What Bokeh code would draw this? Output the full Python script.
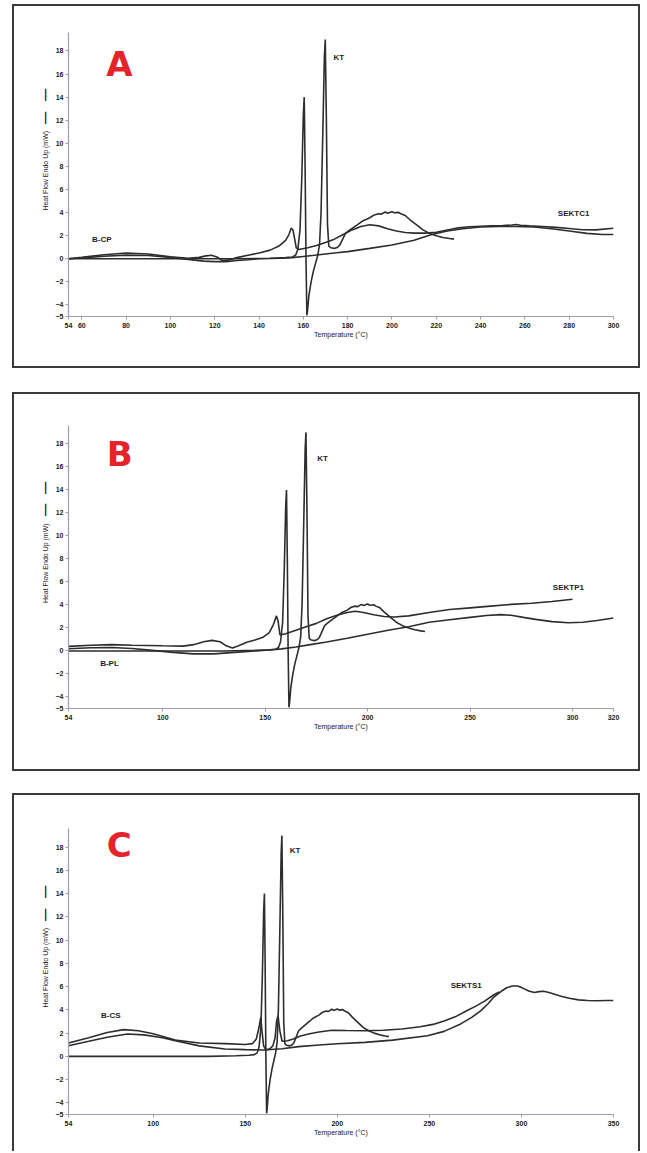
from bokeh.plotting import figure
from bokeh.layouts import column
from bokeh.models import Range1d, FixedTicker
from bokeh.core.properties import value
from bokeh.embed import file_html
from bokeh.resources import INLINE

# ---------------- data ----------------
# KT curve (same in all three panels)
kt_temp = [54, 70, 90, 110, 130, 145, 152, 155, 156.5, 157.5, 158.5, 159.3, 160.0, 160.4, 160.8,
           161.2, 161.6, 161.9, 162.5, 163.5, 164.5, 165.5, 166.5, 167.3, 168.0, 168.8, 169.5,
           169.9, 170.4, 170.9, 171.5, 172.5, 174, 175.5, 176.5, 177.5, 179, 181, 184, 187, 190,
           192, 194, 195, 197, 198, 200, 201, 203, 204, 206, 208, 211, 214, 217, 220, 223, 226, 228]
kt_flow = [0.0, 0.0, 0.0, 0.0, 0.0, 0.05, 0.1, 0.15, 0.3, 0.8, 2.5, 7.0, 12.5, 14.0, 8.0,
           0.0, -4.9, -4.5, -3.2, -2.0, -1.1, -0.4, 0.3, 1.2, 4.0, 11.0, 17.5,
           19.0, 12.0, 3.0, 1.1, 0.95, 0.9, 1.0, 1.2, 1.6, 2.2, 2.5, 2.9, 3.3, 3.55,
           3.8, 3.9, 3.85, 4.05, 3.95, 4.08, 3.98, 4.02, 3.9, 3.75, 3.4, 2.95, 2.5, 2.2, 2.0, 1.85, 1.75, 1.7]

# Panel A
a_bcp_temp = [54, 60, 70, 80, 90, 100, 108, 115, 120, 125, 130, 135, 140, 145, 150, 155, 160, 165,
              170, 175, 180, 190, 200, 210, 218, 225, 232, 240, 248, 256, 264, 272, 280, 288, 295, 300]
a_bcp_flow = [0.0, 0.08, 0.22, 0.32, 0.28, 0.12, -0.05, -0.2, -0.25, -0.25, -0.15, -0.08, 0.0, 0.02,
              0.05, 0.1, 0.2, 0.3, 0.42, 0.52, 0.62, 0.9, 1.2, 1.6, 2.1, 2.4, 2.6, 2.75, 2.8, 2.8,
              2.75, 2.6, 2.4, 2.2, 2.1, 2.1]
a_sek_temp = [54, 60, 70, 80, 90, 100, 108, 113, 116, 118.5, 121, 123.5, 126, 130, 135, 140, 145, 149,
              152, 153.5, 154.5, 155.3, 156, 156.8, 158, 162, 166, 170, 174, 178, 182, 186, 190, 194,
              198, 202, 206, 210, 215, 220, 225, 230, 235, 240, 245, 250, 254, 256, 258, 262, 268,
              274, 280, 286, 292, 300]
a_sek_flow = [0.0, 0.12, 0.35, 0.5, 0.42, 0.18, 0.05, 0.12, 0.25, 0.3, 0.15, -0.15, -0.12, 0.1, 0.3,
              0.5, 0.75, 1.1, 1.6, 2.1, 2.65, 2.5, 1.8, 0.95, 0.8, 0.95, 1.15, 1.4, 1.7, 2.1, 2.5,
              2.8, 2.95, 2.85, 2.6, 2.4, 2.28, 2.22, 2.22, 2.3, 2.5, 2.68, 2.78, 2.82, 2.85, 2.88,
              2.92, 2.97, 2.9, 2.85, 2.8, 2.72, 2.62, 2.52, 2.5, 2.65]

# Panel B
b_bpl_temp = [54, 65, 75, 85, 95, 105, 115, 125, 135, 145, 152, 158, 165, 172, 180, 190, 200, 210,
              220, 230, 240, 250, 258, 265, 270, 276, 282, 290, 298, 305, 312, 320]
b_bpl_flow = [0.2, 0.28, 0.3, 0.22, 0.05, -0.12, -0.25, -0.25, -0.12, 0.0, 0.08, 0.18, 0.35, 0.55,
              0.78, 1.1, 1.45, 1.8, 2.1, 2.5, 2.72, 2.92, 3.08, 3.16, 3.1, 2.92, 2.75, 2.55, 2.45,
              2.5, 2.65, 2.86]
b_sek_temp = [54, 65, 75, 85, 100, 110, 115, 120, 124, 128, 131, 134, 137, 141, 145, 149, 152, 154,
              155.5, 156.3, 157.2, 160, 165, 170, 175, 180, 185, 190, 194, 198, 203, 208, 213, 220,
              230, 240, 250, 260, 270, 280, 290, 300]
b_sek_flow = [0.4, 0.5, 0.55, 0.5, 0.45, 0.42, 0.55, 0.8, 0.92, 0.8, 0.45, 0.25, 0.45, 0.75, 0.95,
              1.2, 1.6, 2.3, 3.05, 2.6, 1.4, 1.5, 1.8, 2.1, 2.4, 2.8, 3.1, 3.35, 3.45, 3.35, 3.15,
              3.0, 2.95, 3.05, 3.35, 3.6, 3.75, 3.9, 4.05, 4.15, 4.3, 4.5]

# Panel C
c_bcs_temp = [54, 65, 75, 86, 95, 105, 112, 125, 139, 150, 160, 170, 179, 190, 200, 215, 230, 249,
              258, 267, 273, 278, 282, 285, 289, 292, 295, 298, 301, 304, 307, 309.5, 312, 315, 318,
              322, 326, 331, 336, 341, 347, 350]
c_bcs_flow = [0.92, 1.3, 1.65, 1.93, 1.85, 1.6, 1.35, 0.9, 0.64, 0.58, 0.55, 0.65, 0.84, 0.98, 1.08,
              1.2, 1.4, 1.78, 2.15, 2.79, 3.35, 3.94, 4.55, 5.1, 5.6, 5.9, 6.05, 6.05, 5.85, 5.62,
              5.5, 5.57, 5.6, 5.5, 5.35, 5.15, 5.0, 4.86, 4.8, 4.78, 4.8, 4.8]
c_sek_temp = [54, 65, 75, 84, 92, 100, 112, 125, 139, 150, 154, 156, 157.5, 158.4, 159.2, 160, 161,
              163, 165, 166.2, 167, 167.8, 168.8, 170, 173, 176, 180, 185, 190, 197, 205, 215, 225,
              235, 245, 252, 258, 264, 270, 275, 280, 285, 288]
c_sek_flow = [1.15, 1.6, 2.05, 2.3, 2.2, 1.95, 1.4, 1.15, 1.1, 1.02, 1.1, 1.5, 2.5, 3.35, 2.0, 0.9,
              0.6, 0.6, 0.9, 1.6, 3.0, 3.5, 2.2, 1.3, 1.35, 1.5, 1.75, 1.95, 2.1, 2.25, 2.22, 2.2,
              2.25, 2.35, 2.55, 2.75, 3.05, 3.4, 3.9, 4.3, 4.75, 5.3, 5.55]

# tick labels
y_ticks = [-5, -4, -2, 0, 2, 4, 6, 8, 10, 12, 14, 16, 18]
a_x_ticks = [54, 60, 80, 100, 120, 140, 160, 180, 200, 220, 240, 260, 280, 300]
b_x_ticks = [54, 100, 150, 200, 250, 300, 320]
c_x_ticks = [54, 100, 150, 200, 250, 300, 350]

# annotation text and anchor positions (data units)
a_labels = ["B-CP", "KT", "SEKTC1"]
a_label_x = [69, 176, 282]
a_label_y = [1.7, 17.4, 3.9]
b_labels = ["B-PL", "KT", "SEKTP1"]
b_label_x = [74, 178, 298]
b_label_y = [-1.1, 16.7, 5.5]
c_labels = ["B-CS", "KT", "SEKTS1"]
c_label_x = [77, 177, 270]
c_label_y = [3.5, 17.7, 6.1]
panel_letters = ["A", "B", "C"]
letter_x = [77, 79, 81.5]
letter_y = [16.9, 17.1, 18.2]

LINE = "#2d2d2d"
AXIS = "#a09cb8"
FONT = "Liberation Sans"
YLABEL = ("\u2003" * 7 + "Heat Flow Endo Up (mW)" + "\u2002\u2002"
          + "\u2501\u2501\u2501" + "\u2003\u2002" + "\u2501\u2501\u2501")


def panel(xmax, xticks, series, labels, lx, ly, letter, lx_l, ly_l,
          width, height, bl, br, bt, bb, shadow):
    p = figure(width=width, height=height, output_backend="svg", toolbar_location=None,
               x_range=Range1d(54, xmax), y_range=Range1d(-5, 19.6),
               min_border_left=bl, min_border_right=br, min_border_top=bt, min_border_bottom=bb)
    p.outline_line_color = None
    p.grid.visible = False
    p.background_fill_color = None
    p.border_fill_color = None
    for t, v in series:
        p.line(t, v, line_color=LINE, line_width=1.6)
    p.text(x=lx, y=ly, text=labels, text_font=value(FONT), text_font_size="8px",
           text_font_style="bold", text_color="#1e1e1e", text_align="center",
           text_baseline="middle")
    p.text(x=[lx_l], y=[ly_l], text=[letter], text_font=value("DejaVu Sans"),
           text_font_size="34px", text_font_style="bold", text_color="#e5232b",
           text_align="center", text_baseline="middle")
    p.xaxis.ticker = FixedTicker(ticks=xticks)
    p.yaxis.ticker = FixedTicker(ticks=y_ticks)
    for ax in (p.xaxis[0], p.yaxis[0]):
        ax.axis_line_color = AXIS
        ax.axis_line_width = 1.2
        ax.major_tick_line_color = AXIS
        ax.major_tick_out = 3
        ax.major_tick_in = 0
        ax.minor_tick_line_color = None
        ax.major_label_text_font = FONT
        ax.major_label_text_font_size = "7px"
        ax.major_label_text_font_style = "bold"
        ax.major_label_text_color = "#222222"
        ax.axis_label_text_font = FONT
        ax.axis_label_text_font_size = "7px"
        ax.axis_label_text_font_style = "normal"
        ax.axis_label_text_color = "#1a1a1a"
    p.xaxis.major_label_standoff = 3
    p.yaxis.major_label_standoff = 2
    p.xaxis.axis_label = "Temperature (\u00b0C)"
    p.xaxis.axis_label_standoff = 0
    p.yaxis.axis_label = YLABEL
    p.yaxis.axis_label_standoff = 4
    p.styles = {"box-shadow": shadow}
    return p


full = "inset 2px 2px 0 0 #3a3a3a, inset -2px -2px 0 0 #3a3a3a"
no_bottom = "inset 2px 2px 0 0 #3a3a3a, inset -2px 0 0 0 #3a3a3a"

pA = panel(300, a_x_ticks, [(a_bcp_temp, a_bcp_flow), (a_sek_temp, a_sek_flow), (kt_temp, kt_flow)],
           a_labels, a_label_x, a_label_y, panel_letters[0], letter_x[0], letter_y[0],
           628, 364, 56, 27, 28, 52, full)
pB = panel(320, b_x_ticks, [(b_bpl_temp, b_bpl_flow), (b_sek_temp, b_sek_flow), (kt_temp, kt_flow)],
           b_labels, b_label_x, b_label_y, panel_letters[1], letter_x[1], letter_y[1],
           628, 379, 55, 22, 33, 63, full)
pC = panel(350, c_x_ticks, [(c_bcs_temp, c_bcs_flow), (c_sek_temp, c_sek_flow), (kt_temp, kt_flow)],
           c_labels, c_label_x, c_label_y, panel_letters[2], letter_x[2], letter_y[2],
           628, 358, 56, 27, 35, 37, no_bottom)

pA.margin = (4, 0, 0, 12)
pB.margin = (24, 0, 0, 12)
pC.margin = (22, 0, 0, 12)

layout = column(pA, pB, pC, spacing=0)

open("out.html", "w").write(file_html(layout, INLINE))
